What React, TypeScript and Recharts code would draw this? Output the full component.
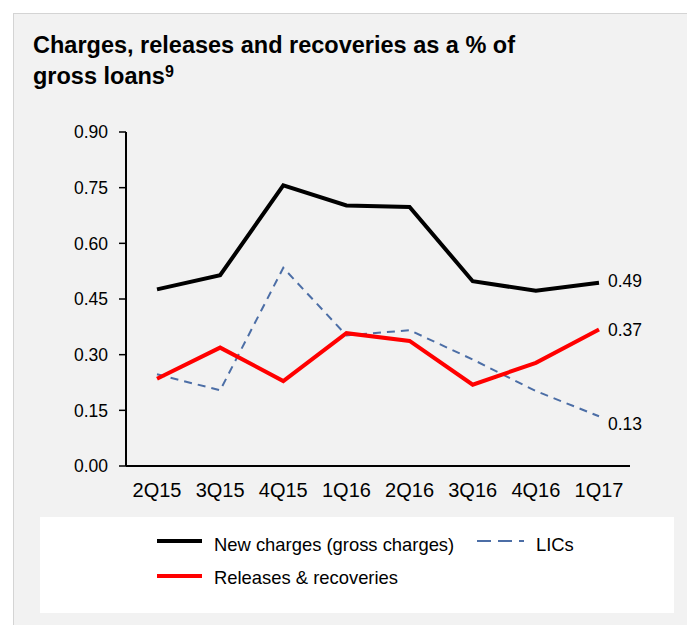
import React from "react";
import { LineChart, Line, XAxis, YAxis, LabelList } from "recharts";

const categories = ["2Q15", "3Q15", "4Q15", "1Q16", "2Q16", "3Q16", "4Q16", "1Q17"];
const newCharges = [0.476, 0.514, 0.756, 0.702, 0.698, 0.498, 0.472, 0.494];
const releases = [0.235, 0.319, 0.229, 0.358, 0.337, 0.219, 0.278, 0.368];
const lics = [0.247, 0.204, 0.534, 0.352, 0.366, 0.287, 0.202, 0.134];
const yTicks = [0, 0.15, 0.3, 0.45, 0.6, 0.75, 0.9];

const data = categories.map((c, i) => ({
  cat: c,
  newCharges: newCharges[i],
  releases: releases[i],
  lics: lics[i],
}));

const FONT = "'Liberation Sans', Arial, sans-serif";
const last = categories.length - 1;

const makeLabel = (dy: number) => (props: any) => {
  const { x, y, value, index } = props;
  if (index !== last) return null;
  return (
    <text x={x + 9} y={y + dy} dy="0.35em" fontSize={17.5} fontFamily={FONT} fill="#000">
      {Number(value).toFixed(2)}
    </text>
  );
};

export default function App() {
  return (
    <div style={{ position: "absolute", left: 0, top: 0, width: 687, height: 625, background: "#fff", overflow: "hidden" }}>
      <div
        style={{
          position: "absolute",
          left: 13,
          top: 13,
          width: 674,
          height: 612,
          background: "#f2f2f2",
          borderLeft: "1px solid #d4d4d4",
          borderTop: "1px solid #d4d4d4",
          boxSizing: "border-box",
        }}
      />
      <div
        style={{
          position: "absolute",
          left: 33,
          top: 30,
          fontFamily: FONT,
          fontWeight: "bold",
          fontSize: 23.5,
          lineHeight: "31px",
          color: "#000",
          whiteSpace: "nowrap",
        }}
      >
        Charges, releases and recoveries as a % of
        <br />
        gross loans<sup style={{ fontSize: 16, verticalAlign: "top", lineHeight: "22px" }}>9</sup>
      </div>
      <div style={{ position: "absolute", left: 0, top: 0 }}>
        <LineChart width={687} height={510} data={data} margin={{ top: 132, right: 57, bottom: 0, left: 66 }}>
          <XAxis
            dataKey="cat"
            axisLine={{ stroke: "#000", strokeWidth: 2 }}
            tickLine={false}
            tickSize={0}
            tickMargin={17}
            height={44}
            interval={0}
            padding={{ left: 31, right: 31 }}
            tick={{ fill: "#000", fontSize: 20, fontFamily: FONT }}
          />
          <YAxis
            domain={[0, 0.9]}
            ticks={yTicks}
            width={60}
            axisLine={{ stroke: "#000", strokeWidth: 2 }}
            tickLine={{ stroke: "#000", strokeWidth: 1.5 }}
            tickSize={7}
            tickMargin={11}
            tickFormatter={(v: number) => v.toFixed(2)}
            tick={{ fill: "#000", fontSize: 17.5, fontFamily: FONT }}
          />
          <Line dataKey="lics" stroke="#4c6ea6" strokeWidth={2} strokeDasharray="8 6" dot={false} isAnimationActive={false}>
            <LabelList dataKey="lics" content={makeLabel(8)} />
          </Line>
          <Line dataKey="releases" stroke="#ff0000" strokeWidth={4} dot={false} isAnimationActive={false}>
            <LabelList dataKey="releases" content={makeLabel(0)} />
          </Line>
          <Line dataKey="newCharges" stroke="#000" strokeWidth={4} dot={false} isAnimationActive={false}>
            <LabelList dataKey="newCharges" content={makeLabel(-2)} />
          </Line>
        </LineChart>
      </div>
      <div
        style={{
          position: "absolute",
          left: 40,
          top: 517,
          width: 634,
          height: 96,
          background: "#fff",
        }}
      >
        <svg width={634} height={96} style={{ position: "absolute", left: 0, top: 0 }}>
          <line x1={117} x2={162} y1={24} y2={24} stroke="#000" strokeWidth={4} />
          <line x1={437} x2={484} y1={24} y2={24} stroke="#4c6ea6" strokeWidth={2} strokeDasharray="14 7" />
          <line x1={117} x2={162} y1={59} y2={59} stroke="#ff0000" strokeWidth={4} />
          <text x={174} y={28} dy="0.35em" fontSize={18.4} fontFamily={FONT} fill="#000">New charges (gross charges)</text>
          <text x={496} y={28} dy="0.35em" fontSize={18.4} fontFamily={FONT} fill="#000">LICs</text>
          <text x={174} y={61} dy="0.35em" fontSize={18.4} fontFamily={FONT} fill="#000">Releases &amp; recoveries</text>
        </svg>
      </div>
    </div>
  );
}
